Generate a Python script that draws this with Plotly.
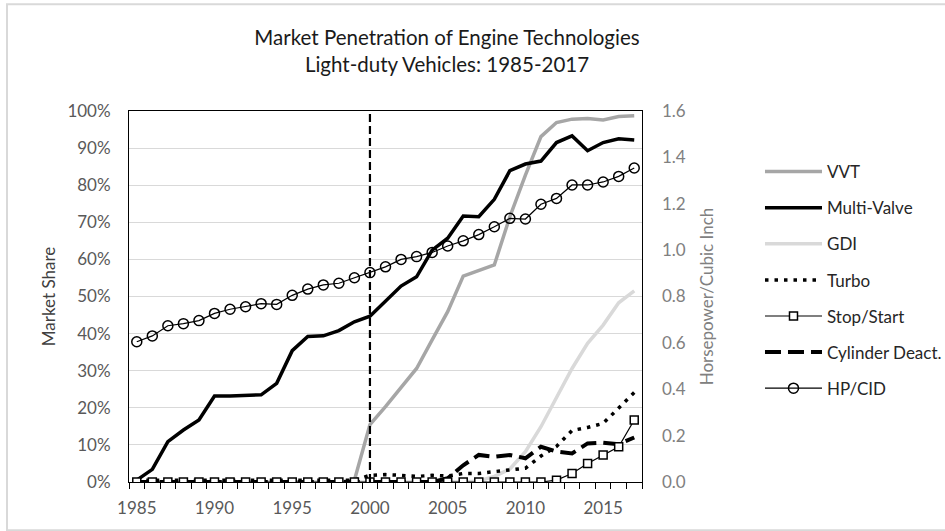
import plotly.graph_objects as go

years = list(range(1985, 2018))

vvt = [0]*14 + [0.5, 15.5, 20.3, 25.5, 30.6, 38.3, 45.9, 55.5, 57.1, 58.5,
                71.5, 82.7, 93.1, 96.9, 97.8, 98.0, 97.6, 98.5, 98.7]
multi_valve = [0.5, 3.4, 10.9, 14.0, 16.7, 23.2, 23.2, 23.4, 23.5, 26.6, 35.4,
               39.2, 39.4, 40.8, 43.2, 44.7, 48.6, 52.8, 55.3, 62.5, 65.7,
               71.7, 71.5, 76.2, 83.9, 85.7, 86.5, 91.5, 93.3, 89.3, 91.5, 92.5, 92.2]
gdi = [0]*22 + [0.3, 1.5, 3.5, 8.2, 14.9, 22.6, 30.6, 37.4, 42.3, 48.3, 51.5]
turbo = [0.5]*15 + [1.8, 2.0, 1.8, 1.5, 1.8, 1.6, 2.3, 2.3, 2.8, 3.2, 3.7,
                    7.0, 9.6, 13.9, 14.7, 15.8, 19.9, 24.1]
stop_start = [0]*27 + [0.5, 2.3, 5.0, 7.3, 9.5, 16.7]
cyl_deact = [0]*20 + [1.0, 4.5, 7.3, 6.8, 7.3, 6.4, 9.5, 8.2, 7.7, 10.4, 10.6, 10.2, 12.0]
hp_cid = [0.605, 0.63, 0.674, 0.683, 0.696, 0.727, 0.745, 0.756, 0.769, 0.766, 0.805,
          0.832, 0.85, 0.857, 0.881, 0.903, 0.928, 0.96, 0.972, 0.99, 1.018,
          1.04, 1.067, 1.101, 1.137, 1.134, 1.198, 1.223, 1.281, 1.281, 1.294, 1.318, 1.354]

milestone_year = 2000
x_ticks = [1985, 1990, 1995, 2000, 2005, 2010, 2015]

FONT = "Lato"

def pct(vals):
    return [v / 100 for v in vals]

fig = go.Figure()

fig.add_trace(go.Scatter(x=years, y=pct(vvt), name="VVT", mode="lines",
                         line=dict(color="#A6A6A6", width=3.5), legendgroup="a", legendrank=1))
fig.add_trace(go.Scatter(x=years, y=pct(multi_valve), name="Multi-Valve", mode="lines",
                         line=dict(color="#000000", width=3.5), legendgroup="b", legendrank=2))
fig.add_trace(go.Scatter(x=years, y=pct(gdi), name="GDI", mode="lines",
                         line=dict(color="#D9D9D9", width=3.5), legendgroup="c", legendrank=3))
fig.add_trace(go.Scatter(x=years, y=pct(turbo), name="Turbo", mode="lines",
                         line=dict(color="#000000", width=3.5, dash="3.5px,6px"),
                         legendgroup="d", legendrank=4))
fig.add_trace(go.Scatter(x=years, y=pct(cyl_deact), name="Cylinder Deact.", mode="lines",
                         line=dict(color="#000000", width=4, dash="16px,7px"),
                         legendgroup="f", legendrank=6))
fig.add_trace(go.Scatter(x=years, y=pct(stop_start), name="Stop/Start", mode="lines+markers",
                         line=dict(color="#000000", width=1.2),
                         marker=dict(symbol="square", size=8, color="white",
                                     line=dict(color="#000000", width=1.5)),
                         legendgroup="e", legendrank=5))
fig.add_trace(go.Scatter(x=years, y=hp_cid, name="HP/CID", mode="lines+markers", yaxis="y2",
                         line=dict(color="#000000", width=1.2),
                         marker=dict(symbol="circle", size=10, color="rgba(255,255,255,0)",
                                     line=dict(color="#000000", width=1.5)),
                         legendgroup="g", legendrank=7))

fig.add_vline(x=milestone_year, line=dict(color="#000000", width=2.2, dash="8px,4px"))

fig.update_layout(
    width=945, height=531,
    margin=dict(l=129, r=303, t=111, b=49, autoexpand=False),
    paper_bgcolor="white", plot_bgcolor="white",
    font=dict(family=FONT, size=17, color="#595959"),
    title=dict(text="Market Penetration of Engine Technologies<br>Light-duty Vehicles: 1985-2017",
               x=0.473, xanchor="center", y=0.915, yanchor="top",
               font=dict(family=FONT, size=20.5, color="#1a1a1a")),
    showlegend=True,
    legend=dict(x=1.230, xanchor="left", y=0.884, yanchor="top",
                font=dict(family=FONT, size=17, color="#262626"),
                traceorder="grouped", tracegroupgap=11, itemwidth=57,
                bgcolor="rgba(0,0,0,0)"),
    xaxis=dict(range=[1984.5, 2017.5], tickmode="array", tickvals=x_ticks,
               ticks="", showgrid=False, zeroline=False, automargin=False,
               showline=True, linecolor="#000000", linewidth=1, mirror=True,
               ticklabelstandoff=11,
               tickfont=dict(size=17, color="#595959"),
               minor=dict(tick0=1984.5, dtick=1, ticks="outside", ticklen=6,
                          tickcolor="#000000", tickwidth=1, showgrid=False)),
    yaxis=dict(range=[0, 1], dtick=0.1, tickformat=".0%", ticks="",
               showgrid=True, gridcolor="#D9D9D9", gridwidth=1, zeroline=False,
               showline=True, linecolor="#000000", linewidth=1, mirror=True,
               ticklabelstandoff=14, automargin=False,
               tickfont=dict(size=17, color="#595959"),
               title=dict(text="Market Share", standoff=7,
                          font=dict(size=17, color="#404040"))),
    yaxis2=dict(range=[0, 1.6], dtick=0.2, tickformat=".1f", ticks="",
                overlaying="y", side="right", showgrid=False, zeroline=False,
                showline=False, ticklabelstandoff=19, automargin=False,
                tickfont=dict(size=17, color="#808080"),
                title=dict(text="Horsepower/Cubic Inch", standoff=16,
                           font=dict(size=17, color="#808080"))),
)

fig.add_shape(type="rect", xref="paper", yref="paper",
              x0=-0.2378, x1=1.66, y0=-0.130, y1=1.288,
              line=dict(color="#D9D9D9", width=2), fillcolor="rgba(0,0,0,0)", layer="below")

fig.write_html("out.html", post_script="document.body.style.margin='0';",
               config={"displayModeBar": False})
